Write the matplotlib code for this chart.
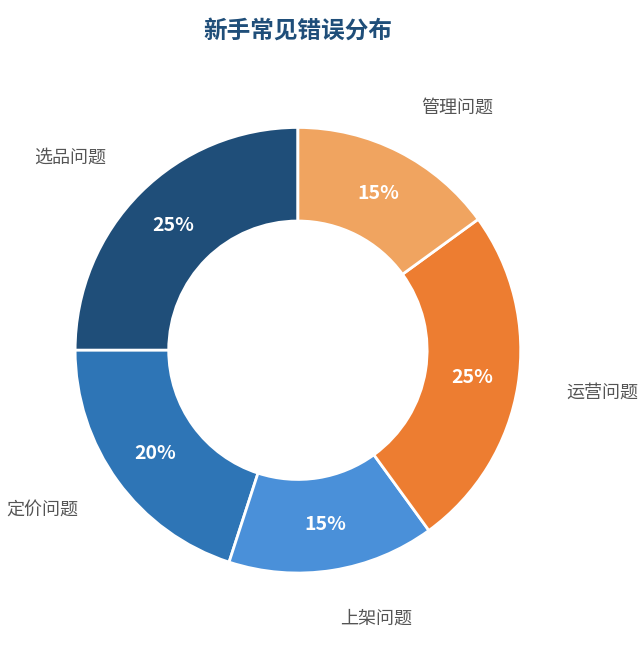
import matplotlib
matplotlib.use("Agg")
import matplotlib.pyplot as plt

plt.rcParams['font.family'] = ['Noto Sans CJK SC', 'DejaVu Sans']

categories = ['选品问题', '定价问题', '上架问题', '运营问题', '管理问题']
values = [25, 20, 15, 25, 15]
colors = ['#1f4e79', '#2e75b6', '#4a90d9', '#ed7d31', '#f0a460']

fig = plt.figure(figsize=(6.4, 6.45), dpi=100)
ax = fig.add_axes([0.0475, 0.0425, 0.836, 0.829])
wedges, texts, autotexts = ax.pie(
    values, labels=categories, colors=colors, startangle=90, counterclock=True,
    radius=1, labeldistance=1.22, pctdistance=0.79,
    autopct=lambda p: f'{p:.0f}%',
    wedgeprops=dict(width=0.42, edgecolor='white', linewidth=2),
    textprops=dict(fontsize=13, color='#555555'))
for t in autotexts:
    t.set_color('white'); t.set_fontsize(14); t.set_fontweight('bold')
ax.set_xlim(-1.2, 1.2); ax.set_ylim(-1.2, 1.2)
ax.set_aspect('equal')
fig.text(0.466, 0.953, '新手常见错误分布', ha='center', va='center',
         fontsize=17, fontweight='bold', color='#1f4e79')
fig.savefig('out.png', dpi=100)
